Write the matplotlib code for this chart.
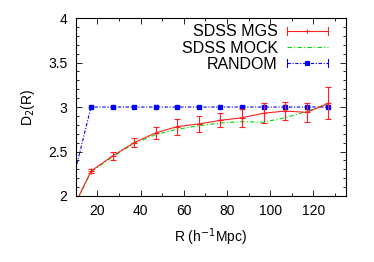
import matplotlib
matplotlib.use("Agg")
import matplotlib.pyplot as plt
from matplotlib.ticker import MultipleLocator
from matplotlib.legend_handler import HandlerBase
from matplotlib.lines import Line2D

plt.rcParams['font.family'] = ['Liberation Sans', 'DejaVu Sans']

# R values (h^-1 Mpc)
r = [7, 17, 27, 37, 47, 57, 67, 77, 87, 97, 107, 117, 127]

# SDSS MGS with errors
mgs = [1.78, 2.28, 2.45, 2.60, 2.71, 2.78, 2.81, 2.85, 2.88, 2.93, 2.955, 2.94, 3.04]
mgs_err = [0.02, 0.02, 0.045, 0.05, 0.07, 0.09, 0.09, 0.08, 0.10, 0.11, 0.10, 0.11, 0.18]

# SDSS MOCK
mock = [1.77, 2.27, 2.44, 2.59, 2.69, 2.75, 2.79, 2.82, 2.835, 2.83, 2.88, 2.95, 3.04]

# RANDOM
rand = [2.02, 3.0, 3.0, 3.0, 3.0, 3.0, 3.0, 3.0, 3.0, 3.0, 3.0, 3.0, 3.0]


class GnuplotErrHandler(HandlerBase):
    # gnuplot style key: horizontal line with caps at both ends
    def __init__(self, color, dashes=None, marker=None):
        super().__init__()
        self.color = color
        self.dashes = dashes
        self.marker = marker

    def create_artists(self, legend, orig_handle, xdescent, ydescent,
                       width, height, fontsize, trans):
        y = height / 2 - ydescent
        x0, x1 = -xdescent, width - xdescent
        h = 3.0
        ln = Line2D([x0, x1], [y, y], color=self.color, lw=0.8)
        if self.dashes:
            ln.set_dashes(self.dashes)
        c1 = Line2D([x0, x0], [y - h, y + h], color=self.color, lw=0.8)
        c2 = Line2D([x1, x1], [y - h, y + h], color=self.color, lw=0.8)
        arts = [ln, c1, c2]
        if self.marker:
            m = Line2D([(x0 + x1) / 2], [y], color=self.color,
                       marker=self.marker, ms=3.5 if self.marker == 's' else 3,
                       mew=0.8, ls='none')
            arts.append(m)
        for a in arts:
            a.set_transform(trans)
        return arts


fig = plt.figure(figsize=(3.74, 2.62), dpi=100)
ax = fig.add_axes([0.203, 0.252, 0.721, 0.679])

h_mgs = ax.errorbar(r, mgs, yerr=mgs_err, color='#ff2020', lw=0.8, elinewidth=0.8,
                    capsize=2, capthick=0.8, marker='+', ms=4, mew=0.8,
                    label='SDSS MGS', zorder=3)
h_mock, = ax.plot(r, mock, color='#00dd00', lw=0.8, dashes=(4, 2, 1, 2),
                  label='SDSS MOCK', zorder=2)
h_rand, = ax.plot(r, rand, color='#0000ff', lw=0.8, dashes=(3, 1.5, 1, 1.5),
                  marker='s', ms=3.5, label='RANDOM', zorder=2)

ax.set_xlim(10, 135)
ax.set_ylim(2, 4)
ax.xaxis.set_minor_locator(MultipleLocator(10))
ax.yaxis.set_minor_locator(MultipleLocator(0.1))
ax.set_xticks([20, 40, 60, 80, 100, 120])
ax.set_yticks([2, 2.5, 3, 3.5, 4])
ax.set_yticklabels(['2', '2.5', '3', '3.5', '4'])
ax.tick_params(which='both', direction='in', top=True, right=True,
               labelsize=10, pad=6)
ax.tick_params(which='major', length=4, width=0.6)
ax.tick_params(which='minor', length=2, width=0.6)
for s in ax.spines.values():
    s.set_linewidth(0.8)

ax.set_xlabel('R (h$^{-1}$Mpc)', fontsize=10, labelpad=6)
ax.set_ylabel('D$_2$(R)', fontsize=10, labelpad=8)

ax.legend([h_mgs, h_mock, h_rand], ['SDSS MGS', 'SDSS MOCK', 'RANDOM'],
          handler_map={h_mgs: GnuplotErrHandler('#ff2020', marker='+'),
                       h_rand: GnuplotErrHandler('#0000ff', dashes=(3, 1.5, 1, 1.5),
                                                 marker='s')},
          loc='upper right', bbox_to_anchor=(0.935, 0.965), frameon=False,
          markerfirst=False, fontsize=11.5, handlelength=2.6,
          labelspacing=0.08, borderaxespad=0, borderpad=0, handletextpad=0.55)

fig.savefig('out.png', dpi=100)
